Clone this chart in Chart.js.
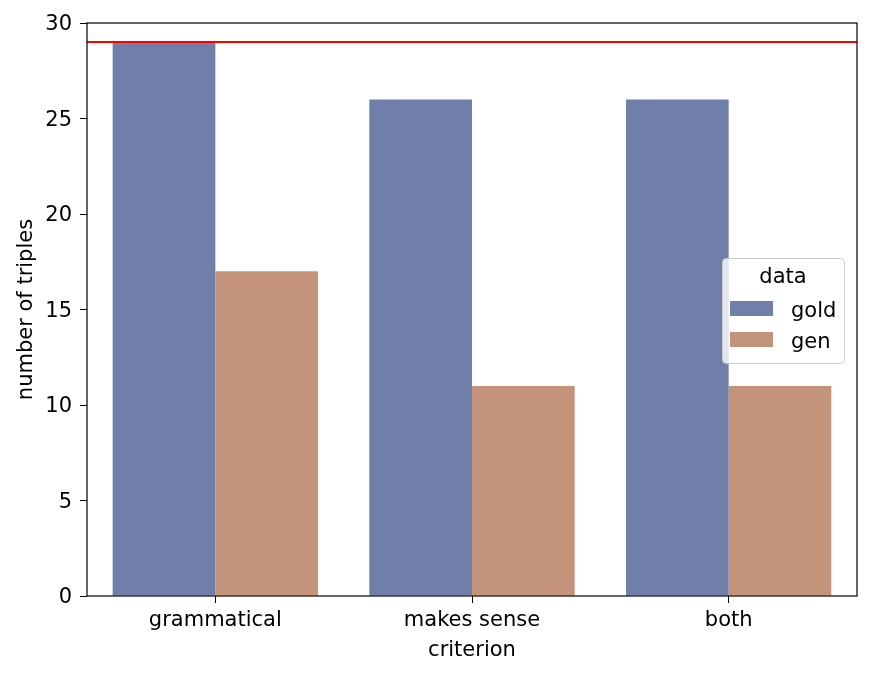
<!DOCTYPE html>
<html>
<head>
<meta charset="utf-8">
<script src="https://cdn.jsdelivr.net/npm/chart.js@4/dist/chart.umd.min.js"></script>
<style>
html,body{margin:0;padding:0;background:#fff;}
canvas{display:block;}
</style>
</head>
<body>
<canvas id="c" width="872" height="677"></canvas>
<script>
const categories = ["grammatical", "makes sense", "both"];
const goldValues = [29, 26, 26];
const genValues = [17, 11, 11];
const seriesNames = ["gold", "gen"];
const referenceLine = 29;
const yTicks = [0, 5, 10, 15, 20, 25, 30];
const legendTitle = "data";
const xTitle = "criterion";
const yTitle = "number of triples";

const FONT = "'DejaVu Sans', sans-serif";
const FS = 21;
const goldColor = "rgb(112,126,170)";
const genColor = "rgb(195,147,122)";

const framePlugin = {
  id: 'frame',
  afterDatasetsDraw(chart) {
    const {ctx, chartArea: a, scales} = chart;
    ctx.save();
    const y = scales.y.getPixelForValue(referenceLine);
    ctx.strokeStyle = 'rgb(255,0,0)';
    ctx.lineWidth = 2;
    ctx.beginPath();
    ctx.moveTo(a.left, y);
    ctx.lineTo(a.right, y);
    ctx.stroke();
    ctx.strokeStyle = '#000';
    ctx.lineWidth = 1.2;
    ctx.strokeRect(a.left, a.top, a.right - a.left, a.bottom - a.top);
    ctx.restore();
  },
  afterDraw(chart) {
    const {ctx} = chart;
    const ds = chart.data.datasets;
    const x0 = 722, y0 = 258, w = 122, h = 105;
    ctx.save();
    ctx.fillStyle = 'rgba(255,255,255,0.8)';
    ctx.strokeStyle = 'rgb(204,204,204)';
    ctx.lineWidth = 1;
    ctx.beginPath();
    ctx.roundRect(x0 + 0.5, y0 + 0.5, w, h, 4);
    ctx.fill();
    ctx.stroke();
    ctx.fillStyle = '#000';
    ctx.font = FS + "px " + FONT;
    ctx.textAlign = 'center';
    ctx.textBaseline = 'alphabetic';
    ctx.fillText(legendTitle, 783, 283);
    ctx.textAlign = 'left';
    ds.forEach((d, i) => {
      const sy = 301 + i * 31;
      ctx.fillStyle = d.backgroundColor;
      ctx.fillRect(730, sy, 43, 15);
      ctx.fillStyle = '#000';
      ctx.fillText(d.label, 791, sy + 16);
    });
    ctx.restore();
  }
};

new Chart(document.getElementById('c'), {
  type: 'bar',
  data: {
    labels: categories,
    datasets: [
      {label: seriesNames[0], data: goldValues, backgroundColor: goldColor, borderWidth: 0},
      {label: seriesNames[1], data: genValues, backgroundColor: genColor, borderWidth: 0}
    ]
  },
  options: {
    responsive: false,
    animation: false,
    devicePixelRatio: 1,
    layout: {padding: {left: 0, right: 15, top: 23, bottom: 0}},
    datasets: {bar: {categoryPercentage: 0.8, barPercentage: 1.0}},
    plugins: {legend: {display: false}, tooltip: {enabled: false}},
    scales: {
      x: {
        grid: {display: true, drawOnChartArea: false, offset: false, color: '#000', tickLength: 7, tickWidth: 1},
        border: {display: false},
        ticks: {color: '#000', font: {family: FONT, size: FS}, padding: 5, maxRotation: 0},
        title: {display: true, text: xTitle, color: '#000', font: {family: FONT, size: FS}, padding: {top: 0, bottom: 14}},
        afterFit(s) { s.height = 81; }
      },
      y: {
        min: 0, max: 30,
        afterBuildTicks(s) { s.ticks = yTicks.map(v => ({value: v})); },
        grid: {display: true, drawOnChartArea: false, color: '#000', tickLength: 7, tickWidth: 1},
        border: {display: false},
        ticks: {color: '#000', font: {family: FONT, size: FS}, padding: 8, labelOffset: 2},
        title: {display: true, text: yTitle, color: '#000', font: {family: FONT, size: FS}, padding: {top: 14, bottom: 0}},
        afterFit(s) { s.width = 87; }
      }
    }
  },
  plugins: [framePlugin]
});
</script>
</body>
</html>
